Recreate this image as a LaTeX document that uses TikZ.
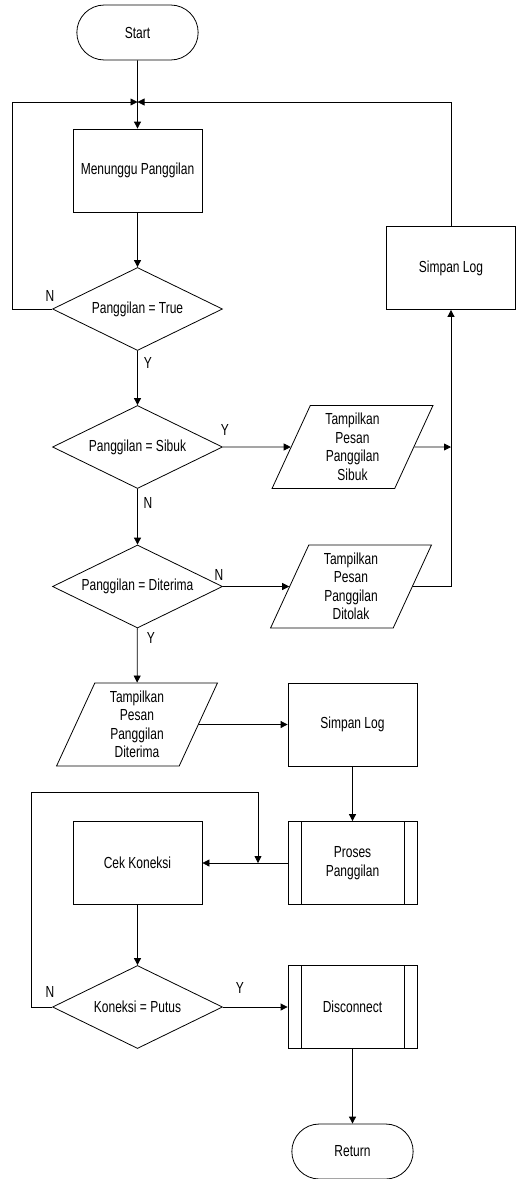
\documentclass[tikz,border=0pt]{standalone}
\usepackage{fontspec}
\setmainfont[FakeStretch=0.75]{Liberation Sans}
\usetikzlibrary{shapes.geometric,shapes.misc,arrows.meta}

\tikzset{
  terminal/.style={draw, rounded rectangle, minimum width=128pt, minimum height=55pt},
  process/.style={draw, rectangle, minimum width=129pt, minimum height=83pt, align=center},
  subproc/.style={process, path picture={
      \draw ([xshift=13pt]path picture bounding box.north west) -- ([xshift=13pt]path picture bounding box.south west)
            ([xshift=-13pt]path picture bounding box.north east) -- ([xshift=-13pt]path picture bounding box.south east);}},
  decision/.style={draw, diamond, aspect=2.05, minimum width=170pt, minimum height=83pt, inner sep=0pt},
  inout/.style={draw, trapezium, trapezium left angle=70, trapezium right angle=110, trapezium stretches=true,
      minimum width=161pt, minimum height=83pt, align=center, inner sep=0pt}
}

\begin{document}
\begin{tikzpicture}[x=1pt, y=-1pt, line width=0.8pt, >={Triangle[length=7pt,width=7pt]},
    font=\fontsize{16}{18.5}\selectfont]

\useasboundingbox (0,0) rectangle (524,1179);

\node[terminal] (start) at (137.5,32.5) {Start};
\coordinate (jtop) at (137.5,102);
\node[process] (wait) at (137.5,170.5) {Menunggu Panggilan};
\node[decision] (cekTrue) at (137.5,309) {Panggilan = True};
\node[process] (logA) at (451,268) {Simpan Log};

\node[decision] (cekSibuk) at (137.5,447) {Panggilan = Sibuk};
\node[inout] (pesanSibuk) at (352.5,447) {Tampilkan\\Pesan\\Panggilan\\Sibuk};
\coordinate (jlog) at (451,447);

\node[decision] (cekTerima) at (137.5,586.5) {Panggilan = Diterima};
\node[inout] (pesanTolak) at (351,586.5) {Tampilkan\\Pesan\\Panggilan\\Ditolak};

\node[inout] (pesanTerima) at (137,724.5) {Tampilkan\\Pesan\\Panggilan\\Diterima};
\node[process] (logB) at (352.5,724.5) {Simpan Log};

\node[subproc] (proses) at (352.5,863) {Proses\\Panggilan};
\node[process] (cekKoneksi) at (137.5,863) {Cek Koneksi};
\coordinate (jcek) at (258,863);

\node[decision] (putus) at (137.5,1007) {Koneksi = Putus};
\node[subproc] (disconnect) at (352.5,1007) {Disconnect};
\node[terminal] (return) at (352.5,1151.5) {Return};

% labels
\node (nTrue) at (50,296) {N};
\node (yTrue) at (148,363) {Y};
\node (ySibuk) at (225,430) {Y};
\node (nSibuk) at (148,503) {N};
\node (nTerima) at (219,575) {N};
\node (yTerima) at (151,638) {Y};
\node (nPutus) at (50,992) {N};
\node (yPutus) at (240,988) {Y};

\path[->] (start) edge (wait)
          (wait) edge (cekTrue)
          (cekTrue) edge (cekSibuk)
          (cekSibuk) edge (cekTerima)
          (cekTerima) edge (pesanTerima);
\draw[->] (cekTrue.west) -- ++(-40,0) |- (jtop);
\draw[->] (logA.north) |- (jtop);

\path[->] (cekSibuk) edge (pesanSibuk)
          (pesanSibuk.east) edge (jlog)
          (cekTerima) edge (pesanTolak);
\draw[->] (pesanTolak.east) -| (logA.south);

\path[->] (pesanTerima) edge (logB)
          (logB) edge (proses)
          (proses) edge (cekKoneksi)
          (cekKoneksi) edge (putus)
          (putus) edge (disconnect)
          (disconnect) edge (return);
\draw[->] (putus.west) -- ++(-21,0) |- (258,792) -- (jcek);

\end{tikzpicture}
\end{document}
